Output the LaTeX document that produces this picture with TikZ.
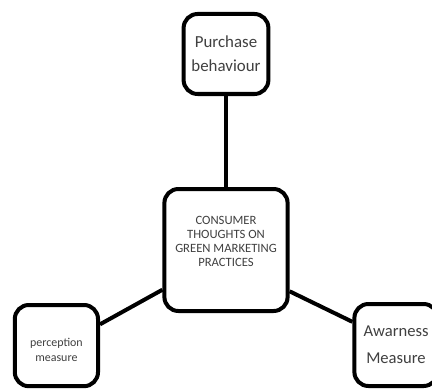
\documentclass[tikz,border=0pt]{standalone}
\usepackage{fontspec}
\setmainfont{Carlito}
\begin{document}
\begin{tikzpicture}[x=1cm,y=1cm]
    \tikzset{
      idea/.style={draw=black, line width=0.1cm, rounded corners=0.35cm,
        fill=white, align=center, inner sep=0pt, text=black!75},
      link/.style={black, line width=0.1cm}
    }
    \useasboundingbox (0,0) rectangle (10.8,9.75);
    % central theme
    \node[idea, minimum width=3.08cm, minimum height=3.05cm, text depth=4.4mm,
      font=\fontsize{9}{10}\selectfont] (cen) at (5.65,3.5)
      {CONSUMER\\THOUGHTS ON\\GREEN MARKETING\\PRACTICES};
    % the three measures round it
    \node[idea, minimum width=2.12cm, minimum height=2.0cm,
      font=\fontsize{12}{17}\selectfont] (buy) at (5.65,8.4)
      {Purchase\\behaviour};
    \node[idea, minimum width=2.08cm, minimum height=2.03cm, text height=22pt,
      font=\fontsize{8.5}{10}\selectfont] (perc) at (1.41,1.11)
      {perception\\measure};
    \node[idea, minimum width=2.08cm, minimum height=2.05cm,
      font=\fontsize{11.8}{19}\selectfont] (awar) at (9.9,1.125)
      {Awarness\\Measure};
    % links
    \draw[link] (cen.north) -- (buy.south);
    \draw[link] (cen.212) -- (perc.26);
    \draw[link] (cen.-33) -- (awar.152);
  \end{tikzpicture}
\end{document}
